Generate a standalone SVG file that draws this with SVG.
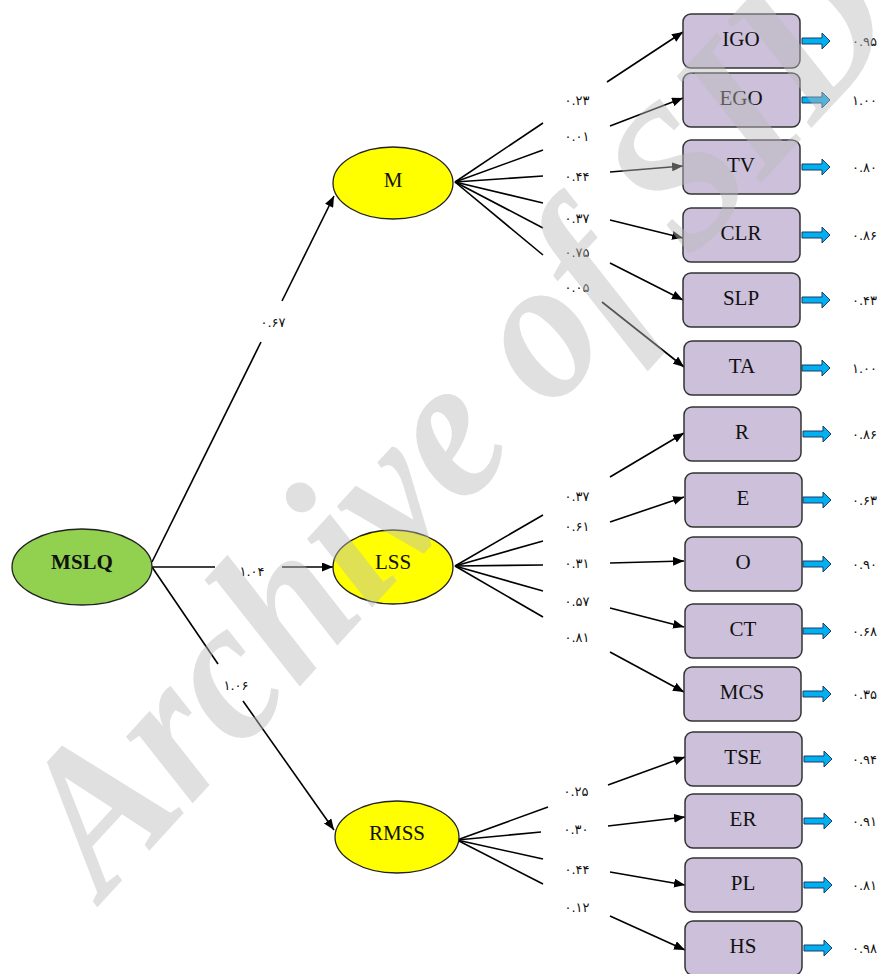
<svg xmlns="http://www.w3.org/2000/svg" width="881" height="974" viewBox="0 0 881 974">
<style>
.bg{fill:#ffffff}
.ell{stroke:#222;stroke-width:1.3}
.lat{fill:#ffff00}
.root{fill:#92d050}
.box{fill:#ccc0da;stroke:#333;stroke-width:1.5}
.nt{font-family:"Liberation Serif",serif;font-size:21px;fill:#111;text-anchor:middle}
.bold{font-weight:bold}
.ln{stroke:#000;stroke-width:1.6;fill:none}
.arr{marker-end:url(#ah)}
.lab{font-family:"DejaVu Sans",sans-serif;font-size:13px;fill:#111;text-anchor:middle}
.val{font-family:"DejaVu Sans",sans-serif;font-size:13px;fill:#111;text-anchor:start}
.blk{fill:#00b0f0;stroke:#1f3864;stroke-width:1}
.wm{font-family:"Liberation Serif",serif;font-weight:bold;font-style:italic;font-size:205px;fill:#bababa;fill-opacity:0.45}
</style>
<defs>
<marker id="ah" markerUnits="userSpaceOnUse" markerWidth="11" markerHeight="9" refX="11" refY="4.5" orient="auto">
<path d="M0,0 L11,4.5 L0,9 z" fill="#000"/>
</marker>
<path id="ba" class="blk" d="M0,-3 L20,-3 L20,-8 L28,0 L20,8 L20,3 L0,3 z"/>
</defs>
<rect class="bg" x="0" y="0" width="881" height="974"/>

<g id="connectors">
<line class="ln" x1="152" y1="562" x2="261" y2="342"/>
<line class="ln arr" x1="282" y1="301" x2="334" y2="196"/>
<line class="ln" x1="152" y1="567" x2="215" y2="567"/>
<line class="ln arr" x1="282" y1="567" x2="333" y2="567"/>
<line class="ln" x1="152" y1="567" x2="218" y2="664"/>
<line class="ln arr" x1="243" y1="701" x2="334" y2="830"/>

<line class="ln" x1="455" y1="182" x2="543" y2="123"/>
<line class="ln" x1="455" y1="182" x2="543" y2="150"/>
<line class="ln" x1="455" y1="182" x2="543" y2="176"/>
<line class="ln" x1="455" y1="182" x2="543" y2="203"/>
<line class="ln" x1="455" y1="182" x2="543" y2="228"/>
<line class="ln" x1="455" y1="182" x2="543" y2="255"/>

<line class="ln" x1="455" y1="566" x2="543" y2="515"/>
<line class="ln" x1="455" y1="566" x2="543" y2="541"/>
<line class="ln" x1="455" y1="566" x2="543" y2="565"/>
<line class="ln" x1="455" y1="566" x2="543" y2="591"/>
<line class="ln" x1="455" y1="566" x2="543" y2="617"/>

<line class="ln" x1="457" y1="840" x2="548" y2="807"/>
<line class="ln" x1="457" y1="840" x2="541" y2="832"/>
<line class="ln" x1="457" y1="840" x2="543" y2="859"/>
<line class="ln" x1="457" y1="840" x2="543" y2="884"/>

<line class="ln arr" x1="607" y1="82" x2="683" y2="32"/>
<line class="ln arr" x1="610" y1="126" x2="683" y2="98"/>
<line class="ln arr" x1="610" y1="172" x2="683" y2="166"/>
<line class="ln arr" x1="610" y1="220" x2="683" y2="238"/>
<line class="ln arr" x1="610" y1="263" x2="683" y2="300"/>
<line class="ln arr" x1="602" y1="302" x2="684" y2="367"/>
<line class="ln arr" x1="610" y1="477" x2="684" y2="433"/>
<line class="ln arr" x1="610" y1="522" x2="684" y2="497"/>
<line class="ln arr" x1="610" y1="563" x2="684" y2="561"/>
<line class="ln arr" x1="610" y1="608" x2="684" y2="627"/>
<line class="ln arr" x1="610" y1="652" x2="684" y2="692"/>
<line class="ln arr" x1="608" y1="785" x2="685" y2="757"/>
<line class="ln arr" x1="608" y1="826" x2="685" y2="817"/>
<line class="ln arr" x1="610" y1="872" x2="685" y2="885"/>
<line class="ln arr" x1="610" y1="916" x2="685" y2="950"/>

<use href="#ba" x="802" y="41"/>
<use href="#ba" x="802" y="100"/>
<use href="#ba" x="802" y="167"/>
<use href="#ba" x="802" y="235"/>
<use href="#ba" x="802" y="300"/>
<use href="#ba" x="802" y="368"/>
<use href="#ba" x="803" y="434"/>
<use href="#ba" x="803" y="500"/>
<use href="#ba" x="803" y="564"/>
<use href="#ba" x="803" y="631"/>
<use href="#ba" x="803" y="694"/>
<use href="#ba" x="804" y="759"/>
<use href="#ba" x="804" y="821"/>
<use href="#ba" x="804" y="885"/>
<use href="#ba" x="804" y="948"/>

<text class="lab" x="273" y="327">۰.۶۷</text>
<text class="lab" x="252" y="576">۱.۰۴</text>
<text class="lab" x="236" y="690">۱.۰۶</text>

<text class="lab" x="577" y="105">۰.۲۳</text>
<text class="lab" x="577" y="141">۰.۰۱</text>
<text class="lab" x="577" y="181">۰.۴۴</text>
<text class="lab" x="577" y="223">۰.۳۷</text>
<text class="lab" x="577" y="257">۰.۷۵</text>
<text class="lab" x="577" y="292">۰.۰۵</text>
<text class="lab" x="577" y="501">۰.۳۷</text>
<text class="lab" x="577" y="531">۰.۶۱</text>
<text class="lab" x="577" y="568">۰.۳۱</text>
<text class="lab" x="577" y="606">۰.۵۷</text>
<text class="lab" x="577" y="642">۰.۸۱</text>
<text class="lab" x="576" y="796">۰.۲۵</text>
<text class="lab" x="576" y="834">۰.۳۰</text>
<text class="lab" x="577" y="874">۰.۴۴</text>
<text class="lab" x="577" y="912">۰.۱۲</text>

<text class="val" x="852" y="46">۰.۹۵</text>
<text class="val" x="852" y="105">۱.۰۰</text>
<text class="val" x="852" y="172">۰.۸۰</text>
<text class="val" x="852" y="240">۰.۸۶</text>
<text class="val" x="852" y="305">۰.۴۳</text>
<text class="val" x="852" y="373">۱.۰۰</text>
<text class="val" x="852" y="439">۰.۸۶</text>
<text class="val" x="852" y="505">۰.۶۳</text>
<text class="val" x="852" y="569">۰.۹۰</text>
<text class="val" x="852" y="636">۰.۶۸</text>
<text class="val" x="852" y="699">۰.۳۵</text>
<text class="val" x="852" y="764">۰.۹۴</text>
<text class="val" x="852" y="826">۰.۹۱</text>
<text class="val" x="852" y="890">۰.۸۱</text>
<text class="val" x="852" y="953">۰.۹۸</text>
</g>

<g id="MSLQ"><ellipse class="ell root" cx="82" cy="567" rx="70" ry="38"/><text class="nt bold" x="82" y="569">MSLQ</text></g>
<g id="M"><ellipse class="ell lat" cx="393" cy="183" rx="60" ry="36"/><text class="nt" x="393" y="187">M</text></g>
<g id="LSS"><ellipse class="ell lat" cx="393" cy="567" rx="60" ry="37"/><text class="nt" x="393" y="569">LSS</text></g>
<g id="RMSS"><ellipse class="ell lat" cx="397" cy="837" rx="62" ry="36"/><text class="nt" x="397" y="840">RMSS</text></g>

<g id="IGO"><rect class="box" x="683" y="14" width="117" height="54" rx="8"/><text class="nt" x="741" y="46">IGO</text></g>
<g id="EGO"><rect class="box" x="683" y="73" width="117" height="54" rx="8"/><text class="nt" x="741" y="105">EGO</text></g>
<g id="TV"><rect class="box" x="683" y="140" width="117" height="54" rx="8"/><text class="nt" x="741" y="172">TV</text></g>
<g id="CLR"><rect class="box" x="683" y="208" width="117" height="54" rx="8"/><text class="nt" x="741" y="240">CLR</text></g>
<g id="SLP"><rect class="box" x="683" y="273" width="117" height="54" rx="8"/><text class="nt" x="741" y="305">SLP</text></g>
<g id="TA"><rect class="box" x="684" y="341" width="117" height="54" rx="8"/><text class="nt" x="742" y="373">TA</text></g>
<g id="R"><rect class="box" x="684" y="407" width="117" height="54" rx="8"/><text class="nt" x="742" y="439">R</text></g>
<g id="E"><rect class="box" x="685" y="473" width="117" height="54" rx="8"/><text class="nt" x="743" y="505">E</text></g>
<g id="O"><rect class="box" x="685" y="537" width="117" height="54" rx="8"/><text class="nt" x="743" y="569">O</text></g>
<g id="CT"><rect class="box" x="685" y="604" width="117" height="54" rx="8"/><text class="nt" x="743" y="636">CT</text></g>
<g id="MCS"><rect class="box" x="684" y="667" width="117" height="54" rx="8"/><text class="nt" x="742" y="699">MCS</text></g>
<g id="TSE"><rect class="box" x="685" y="732" width="117" height="54" rx="8"/><text class="nt" x="743" y="764">TSE</text></g>
<g id="ER"><rect class="box" x="685" y="794" width="117" height="54" rx="8"/><text class="nt" x="743" y="826">ER</text></g>
<g id="PL"><rect class="box" x="685" y="858" width="117" height="54" rx="8"/><text class="nt" x="743" y="890">PL</text></g>
<g id="HS"><rect class="box" x="685" y="921" width="117" height="54" rx="8"/><text class="nt" x="743" y="953">HS</text></g>

<text class="wm" transform="translate(104,900) rotate(-47.5) scale(0.93,1)">Archive of SID</text>
</svg>
